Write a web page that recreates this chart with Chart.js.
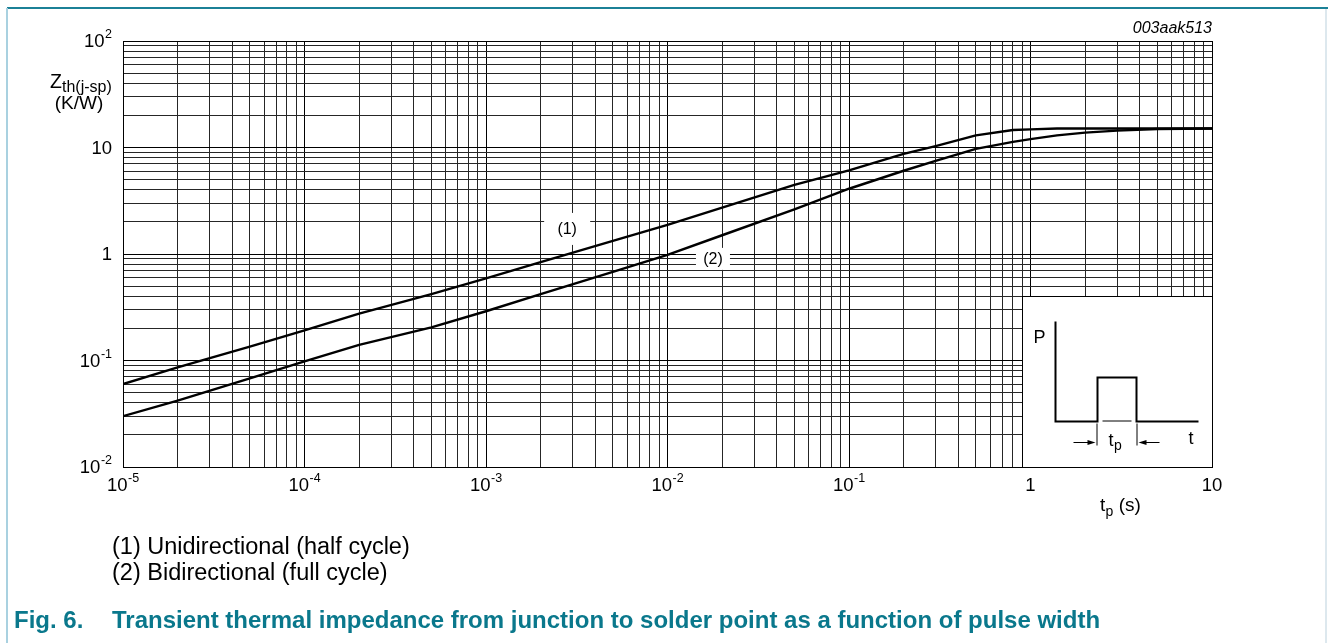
<!DOCTYPE html>
<html>
<head>
<meta charset="utf-8">
<title>Transient thermal impedance</title>
<script src="https://cdn.jsdelivr.net/npm/chart.js@4.4.1/dist/chart.umd.min.js"></script>
<style>
  html, body { margin: 0; padding: 0; background: #fff; }
  #page { position: relative; width: 1328px; height: 643px; overflow: hidden; font-family: "Liberation Sans", Arial, sans-serif; }
  #zth-chart { position: absolute; left: 0; top: 0; }
  .frame-top { position: absolute; left: 7px; top: 7px; width: 1321px; height: 2px; background: #1b8197; }
  .frame-left { position: absolute; left: 6px; top: 8px; width: 2px; height: 635px; background: #a9d1e0; }
  .frame-right { position: absolute; left: 1325px; top: 9px; width: 2px; height: 634px; background: #dde8ee; }
  .note { position: absolute; left: 112px; font-size: 23.5px; line-height: 24px; color: #000; white-space: nowrap; }
  .caption { position: absolute; top: 608px; font-size: 24px; line-height: 24px; font-weight: bold; color: #0a788c; white-space: nowrap; }
</style>
</head>
<body>
<div id="page">
  <canvas id="zth-chart" width="1328" height="643"></canvas>
  <div class="frame-top"></div>
  <div class="frame-left"></div>
  <div class="frame-right"></div>
  <div class="note" style="top:534px">(1) Unidirectional (half cycle)</div>
  <div class="note" style="top:560px">(2) Bidirectional (full cycle)</div>
  <div class="caption" style="left:14px">Fig. 6.</div>
  <div class="caption" style="left:112px">Transient thermal impedance from junction to solder point as a function of pulse width</div>
</div>
<script>
// pulse width tp (s)
const pulseWidths = [1e-5, 2e-5, 5e-5, 1e-4, 2e-4, 5e-4, 1e-3, 2e-3, 5e-3, 1e-2, 2e-2, 5e-2, 0.1, 0.2, 0.3, 0.5, 0.8, 1, 1.4, 2, 3, 5, 10];
// (1) unidirectional (half cycle), Zth(j-sp) in K/W
const zthUnidirectional = [0.060, 0.086, 0.135, 0.192, 0.275, 0.42, 0.59, 0.84, 1.33, 1.88, 2.72, 4.45, 6.1, 8.7, 10.3, 13.0, 14.6, 14.8, 15.1, 15.1, 15.1, 15.1, 15.1];
// (2) bidirectional (full cycle)
const zthBidirectional = [0.030, 0.042, 0.068, 0.098, 0.140, 0.205, 0.29, 0.42, 0.68, 0.98, 1.50, 2.62, 4.1, 6.05, 7.5, 9.7, 11.3, 12.0, 13.0, 13.8, 14.4, 14.9, 15.1];

// decade labels : [mantissa, exponent]
const xTickValues = [1e-5, 1e-4, 1e-3, 1e-2, 1e-1, 1, 10];
const xTickLabels = [['10', '-5'], ['10', '-4'], ['10', '-3'], ['10', '-2'], ['10', '-1'], ['1', ''], ['10', '']];
const yTickValues = [1e-2, 1e-1, 1, 10, 100];
const yTickLabels = [['10', '-2'], ['10', '-1'], ['1', ''], ['10', ''], ['10', '2']];

// curve tags and where they sit (tp, Zth)
const curveTags = ['(1)', '(2)'];
const curveTagAt = [[2.8e-3, 1.72], [0.0178, 0.9]];

// top left corner of the pulse inset (tp, Zth)
const insetCorner = [0.9, 0.4];

const FONT = '"Liberation Sans", Arial, sans-serif';

// 1..9 lines in every decade
function logGrid(fromExp, toExp) {
  const v = [];
  for (let e = fromExp; e < toExp; e++) {
    for (let m = 1; m < 10; m++) v.push(m * Math.pow(10, e));
  }
  v.push(Math.pow(10, toExp));
  return v;
}

function isDecade(v) {
  const l = Math.log10(v);
  return Math.abs(l - Math.round(l)) < 1e-9;
}

const gridColor = ctx => (ctx.tick && isDecade(ctx.tick.value)) ? '#000' : '#262626';

// 10 with a raised exponent
function drawPower(ctx, label, px, py, align) {
  const base = label[0], exp = label[1];
  ctx.font = '18.5px ' + FONT;
  const wb = ctx.measureText(base).width;
  ctx.font = '12.5px ' + FONT;
  const we = exp ? ctx.measureText(exp).width + 0.5 : 0;
  const left = align === 'center' ? px - (wb + we) / 2 : px - wb - we;
  ctx.textAlign = 'left';
  ctx.textBaseline = 'middle';
  ctx.font = '18.5px ' + FONT;
  ctx.fillText(base, left, py);
  if (exp) {
    ctx.font = '12.5px ' + FONT;
    ctx.fillText(exp, left + wb + 0.5, py - 7);
  }
}

function arrow(ctx, x1, x2, y) {
  const dir = Math.sign(x2 - x1);
  ctx.beginPath();
  ctx.moveTo(x1, y);
  ctx.lineTo(x2 - dir * 6, y);
  ctx.stroke();
  ctx.beginPath();
  ctx.moveTo(x2, y);
  ctx.lineTo(x2 - dir * 8, y - 2.5);
  ctx.lineTo(x2 - dir * 8, y + 2.5);
  ctx.closePath();
  ctx.fill();
}

const extras = {
  id: 'extras',
  beforeDatasetsDraw(chart) {
    const { ctx, scales: { x, y }, chartArea: area } = chart;
    ctx.save();

    // white boxes with curve tags
    const boxes = [[46, 32], [34, 22]];
    curveTags.forEach((tag, i) => {
      const cx = x.getPixelForValue(curveTagAt[i][0]);
      const cy = y.getPixelForValue(curveTagAt[i][1]);
      const [w, h] = boxes[i];
      ctx.fillStyle = '#fff';
      ctx.fillRect(cx - w / 2, cy - h / 2, w, h);
      ctx.fillStyle = '#000';
      ctx.font = '16px ' + FONT;
      ctx.textAlign = 'center';
      ctx.textBaseline = 'middle';
      ctx.fillText(tag, cx, cy + 1);
    });

    // pulse inset
    const bx = Math.round(x.getPixelForValue(insetCorner[0])) + 0.5;
    const by = Math.round(y.getPixelForValue(insetCorner[1])) + 0.5;
    const bw = Math.round(area.right) - bx + 0.5;
    const bh = Math.round(area.bottom) - by + 0.5;
    ctx.fillStyle = '#fff';
    ctx.fillRect(bx, by, bw, bh);
    ctx.strokeStyle = '#000';
    ctx.lineWidth = 1;
    ctx.strokeRect(bx, by, bw, bh);

    ctx.lineWidth = 2;
    ctx.lineJoin = 'miter';
    ctx.beginPath();
    ctx.moveTo(bx + 33, by + 25);
    ctx.lineTo(bx + 33, by + 125);
    ctx.lineTo(bx + 75, by + 125);
    ctx.lineTo(bx + 75, by + 81);
    ctx.lineTo(bx + 114, by + 81);
    ctx.lineTo(bx + 114, by + 125);
    ctx.lineTo(bx + 176, by + 125);
    ctx.stroke();

    ctx.lineWidth = 1;
    ctx.beginPath();
    ctx.moveTo(bx + 80, by + 124.5);
    ctx.lineTo(bx + 109, by + 124.5);
    ctx.moveTo(bx + 74.5, by + 127);
    ctx.lineTo(bx + 74.5, by + 149);
    ctx.moveTo(bx + 114.5, by + 127);
    ctx.lineTo(bx + 114.5, by + 149);
    ctx.stroke();
    ctx.fillStyle = '#000';
    arrow(ctx, bx + 51, bx + 73, by + 146);
    arrow(ctx, bx + 137, bx + 116, by + 146);

    ctx.textAlign = 'left';
    ctx.textBaseline = 'alphabetic';
    ctx.font = '18px ' + FONT;
    ctx.fillText('P', bx + 11, by + 46);
    ctx.fillText('t', bx + 166, by + 147);
    ctx.fillText('t', bx + 86, by + 149);
    ctx.font = '14px ' + FONT;
    ctx.fillText('p', bx + 91.5, by + 153);

    ctx.restore();
  },
  afterDraw(chart) {
    const { ctx, scales: { x, y }, chartArea: area } = chart;
    ctx.save();
    ctx.fillStyle = '#000';

    xTickValues.forEach((v, i) => drawPower(ctx, xTickLabels[i], x.getPixelForValue(v), area.bottom + 19, 'center'));
    yTickValues.forEach((v, i) => drawPower(ctx, yTickLabels[i], area.left - 11, y.getPixelForValue(v) + 1, 'right'));

    // y axis title
    ctx.textBaseline = 'alphabetic';
    ctx.textAlign = 'left';
    ctx.font = '19.5px ' + FONT;
    ctx.fillText('Z', 50, 88);
    ctx.font = '16px ' + FONT;
    ctx.fillText('th(j-sp)', 62, 92);
    ctx.font = '19px ' + FONT;
    ctx.textAlign = 'center';
    ctx.fillText('(K/W)', 79, 109);

    // x axis title
    ctx.textAlign = 'left';
    ctx.font = '19px ' + FONT;
    ctx.fillText('t', 1100, 511);
    ctx.font = '14px ' + FONT;
    ctx.fillText('p', 1105.5, 516);
    ctx.font = '19px ' + FONT;
    ctx.fillText(' (s)', 1113.5, 511);

    // figure code
    ctx.textAlign = 'right';
    ctx.font = 'italic 16px ' + FONT;
    ctx.fillText('003aak513', area.right, 33);

    ctx.restore();
  }
};

const ctx = document.getElementById('zth-chart').getContext('2d');
const zthChart = new Chart(ctx, {
  type: 'line',
  data: {
    datasets: [
      {
        label: '(1) Unidirectional (half cycle)',
        data: pulseWidths.map((t, i) => ({ x: t, y: zthUnidirectional[i] })),
        borderColor: '#000',
        borderWidth: 2.4,
        fill: false
      },
      {
        label: '(2) Bidirectional (full cycle)',
        data: pulseWidths.map((t, i) => ({ x: t, y: zthBidirectional[i] })),
        borderColor: '#000',
        borderWidth: 2.4,
        fill: false
      }
    ]
  },
  options: {
    responsive: false,
    animation: false,
    events: [],
    layout: { padding: { left: 123, right: 116, top: 41, bottom: 176 } },
    elements: { point: { radius: 0 }, line: { tension: 0, borderJoinStyle: 'round' } },
    plugins: { legend: { display: false }, tooltip: { enabled: false } },
    scales: {
      x: {
        type: 'logarithmic',
        min: 1e-5,
        max: 10,
        afterBuildTicks: s => { s.ticks = logGrid(-5, 1).map(v => ({ value: v })); },
        ticks: { display: false },
        grid: { color: gridColor, lineWidth: 1, drawTicks: false },
        border: { color: '#000', width: 1 }
      },
      y: {
        type: 'logarithmic',
        min: 1e-2,
        max: 100,
        afterBuildTicks: s => { s.ticks = logGrid(-2, 2).map(v => ({ value: v })); },
        ticks: { display: false },
        grid: { color: gridColor, lineWidth: 1, drawTicks: false },
        border: { color: '#000', width: 1 }
      }
    }
  },
  plugins: [extras]
});
</script>
</body>
</html>
